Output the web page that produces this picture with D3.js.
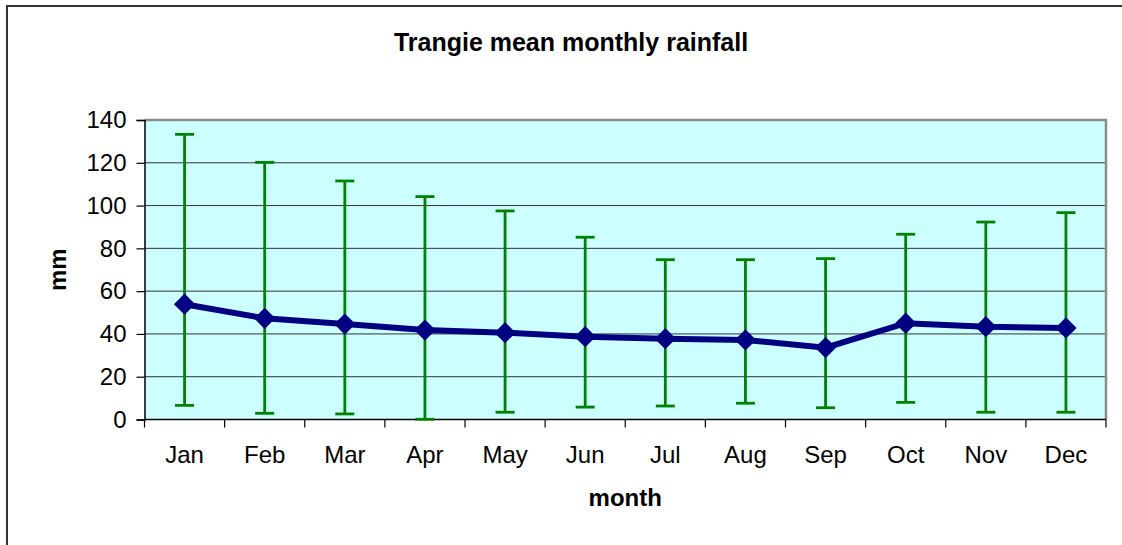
<!DOCTYPE html>
<html>
<head>
<meta charset="utf-8">
<script src="https://cdn.jsdelivr.net/npm/d3@7"></script>
<style>
  body { margin: 0; background: #fff; }
  text { font-family: "Liberation Sans", Arial, sans-serif; fill: #000; }
</style>
</head>
<body>
<div class="chart"></div>
<script>
// values (mm)
var months = ["Jan", "Feb", "Mar", "Apr", "May", "Jun", "Jul", "Aug", "Sep", "Oct", "Nov", "Dec"];
var meanRain = [53.9, 47.3, 44.6, 41.8, 40.6, 38.7, 37.8, 37.2, 33.6, 45.0, 43.4, 42.8];
var upperRain = [133.3, 120.2, 111.5, 104.2, 97.5, 85.2, 74.7, 74.7, 75.2, 86.6, 92.3, 96.7];
var lowerRain = [6.6, 2.9, 2.6, 0.1, 3.4, 5.8, 6.3, 7.6, 5.5, 8.0, 3.4, 3.4];
var yTicks = [0, 20, 40, 60, 80, 100, 120, 140];

var W = 1122, H = 545;
var plot = { left: 144.5, right: 1106, top: 120, bottom: 419.5 };

var svg = d3.select(".chart")
            .append("svg")
            .attr("width", W)
            .attr("height", H);

// outer chart border (right and bottom edges fall outside the window)
svg.append("rect")
    .attr("x", 7)
    .attr("y", 6)
    .attr("width", W + 20)
    .attr("height", H + 20)
    .attr("fill", "#fff")
    .attr("stroke", "#333")
    .attr("stroke-width", 2);

var x = d3.scaleBand()
          .domain(months)
          .range([plot.left, plot.right]);

var y = d3.scaleLinear()
          .domain([0, 140])
          .range([plot.bottom, plot.top]);

// plot background
svg.append("rect")
    .attr("x", plot.left)
    .attr("y", plot.top)
    .attr("width", plot.right - plot.left)
    .attr("height", plot.bottom - plot.top)
    .attr("fill", "#ccffff");

// gridlines
svg.selectAll(".grid")
    .data(yTicks.filter(function(d) { return d > 0 && d < 140; }))
    .enter().append("line")
    .attr("class", "grid")
    .attr("x1", plot.left)
    .attr("x2", plot.right)
    .attr("y1", function(d) { return y(d); })
    .attr("y2", function(d) { return y(d); })
    .attr("stroke", "#333")
    .attr("stroke-width", 1);

// top and right frame in grey
svg.append("path")
    .attr("d", "M" + plot.left + "," + plot.top + "H" + plot.right + "V" + plot.bottom)
    .attr("fill", "none")
    .attr("stroke", "#8c8c8c")
    .attr("stroke-width", 2.5);

// y axis
var yAxis = d3.axisLeft(y)
              .tickValues(yTicks)
              .tickSize(8)
              .tickPadding(10);

var gy = svg.append("g")
            .attr("transform", "translate(" + plot.left + ",0)")
            .call(yAxis);
gy.select(".domain").attr("stroke", "#000").attr("stroke-width", 1.5);
gy.selectAll(".tick line").attr("stroke", "#000").attr("stroke-width", 1.2);
gy.selectAll(".tick text")
    .attr("font-size", 24)
    .attr("font-family", "'Liberation Sans', Arial, sans-serif")
    .attr("fill", "#000");

// x axis: ticks on the category boundaries, labels in the middle
var boundaries = months.map(function(m) { return x(m); }).concat([plot.right]);

svg.append("line")
    .attr("x1", plot.left)
    .attr("x2", plot.right)
    .attr("y1", plot.bottom)
    .attr("y2", plot.bottom)
    .attr("stroke", "#000")
    .attr("stroke-width", 1.5);

svg.selectAll(".xtick")
    .data(boundaries)
    .enter().append("line")
    .attr("class", "xtick")
    .attr("x1", function(d) { return d; })
    .attr("x2", function(d) { return d; })
    .attr("y1", plot.bottom)
    .attr("y2", plot.bottom + 8)
    .attr("stroke", "#000")
    .attr("stroke-width", 1.2);

svg.selectAll(".xlabel")
    .data(months)
    .enter().append("text")
    .attr("class", "xlabel")
    .attr("x", function(d) { return x(d) + x.bandwidth() / 2; })
    .attr("y", 463)
    .attr("text-anchor", "middle")
    .attr("font-size", 24)
    .text(function(d) { return d; });

// error bars
var cx = function(d, i) { return x(months[i]) + x.bandwidth() / 2; };
var capW = 9.5;

var bars = svg.append("g")
              .attr("stroke", "#008000")
              .attr("stroke-width", 2.8);

bars.selectAll(".stem")
    .data(meanRain)
    .enter().append("line")
    .attr("x1", cx)
    .attr("x2", cx)
    .attr("y1", function(d, i) { return y(upperRain[i]); })
    .attr("y2", function(d, i) { return y(lowerRain[i]); });

bars.selectAll(".capTop")
    .data(meanRain)
    .enter().append("line")
    .attr("x1", function(d, i) { return cx(d, i) - capW; })
    .attr("x2", function(d, i) { return cx(d, i) + capW; })
    .attr("y1", function(d, i) { return y(upperRain[i]); })
    .attr("y2", function(d, i) { return y(upperRain[i]); });

bars.selectAll(".capBottom")
    .data(meanRain)
    .enter().append("line")
    .attr("x1", function(d, i) { return cx(d, i) - capW; })
    .attr("x2", function(d, i) { return cx(d, i) + capW; })
    .attr("y1", function(d, i) { return y(lowerRain[i]); })
    .attr("y2", function(d, i) { return y(lowerRain[i]); });

// mean line
var line = d3.line()
             .x(function(d, i) { return cx(d, i); })
             .y(function(d) { return y(d); });

svg.append("path")
    .datum(meanRain)
    .attr("d", line)
    .attr("fill", "none")
    .attr("stroke", "#000080")
    .attr("stroke-width", 6);

// diamond markers
var diamond = d3.symbol().type(d3.symbolDiamond2).size(290);

svg.selectAll(".marker")
    .data(meanRain)
    .enter().append("path")
    .attr("class", "marker")
    .attr("transform", function(d, i) { return "translate(" + cx(d, i) + "," + y(d) + ")"; })
    .attr("d", diamond)
    .attr("fill", "#000080");

// titles
svg.append("text")
    .attr("x", 571)
    .attr("y", 51)
    .attr("text-anchor", "middle")
    .attr("font-size", 25)
    .attr("font-weight", "bold")
    .text("Trangie mean monthly rainfall");

svg.append("text")
    .attr("x", (plot.left + plot.right) / 2)
    .attr("y", 506)
    .attr("text-anchor", "middle")
    .attr("font-size", 24)
    .attr("font-weight", "bold")
    .text("month");

svg.append("text")
    .attr("transform", "translate(66," + y(70) + ") rotate(-90)")
    .attr("text-anchor", "middle")
    .attr("font-size", 24)
    .attr("font-weight", "bold")
    .text("mm");
</script>
</body>
</html>
